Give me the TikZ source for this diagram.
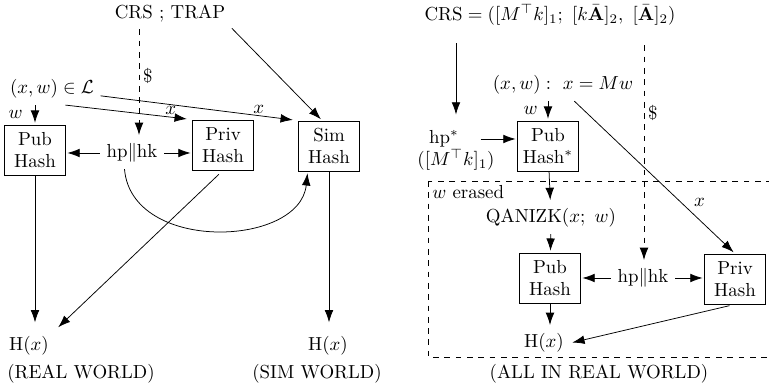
\documentclass[tikz,border=0pt]{standalone}
\usepackage{amsmath}
\usetikzlibrary{arrows.meta}
\tikzset{
  hashbox/.style={draw,align=center,minimum width=32pt,minimum height=26.5pt,inner sep=2pt},
  pfeil/.style={->,shorten >=1pt}
}
\begin{document}
\begin{tikzpicture}[>={Latex[length=6.5pt,width=4.6pt]},x=0.53pt,y=-0.53pt]
\useasboundingbox (0,0) rectangle (769,392);
\def\pfeil#1#2{
\draw[pfeil] #1 -- #2;
}
% real world / sim world
\node (crsl) at (170,14) {CRS ; TRAP};
\node (xwl) at (52,89) {$(x,w)\in\mathcal{L}$};
\node[hashbox] (publ) at (35,150) {Pub\\Hash};
\node[hashbox] (privl) at (223,145) {Priv\\Hash};
\node[hashbox] (siml) at (329,146) {Sim\\Hash};
\node (hphkl) at (132,153) {hp$\|$hk};
\node (hl) at (29,346) {$\mathrm{H}(x)$};
\node (hs) at (328,346) {$\mathrm{H}(x)$};
\node (real) at (81,374) {(REAL WORLD)};
\node (sim) at (317,374) {(SIM WORLD)};
\coordinate (dollarl) at (139,70);

\draw[pfeil,dashed] (crsl.south -| dollarl) -- (hphkl.north -| dollarl)
  node[pos=0.43,right,inner sep=2pt] {\$};
\pfeil{(crsl.-13)}{(siml.105)}
\draw[pfeil,shorten >=3pt] (xwl.-50) -- (privl.north west) node[pos=0.83,above,inner sep=1pt] {$x$};
\draw[pfeil,shorten >=3pt] (xwl.-8) -- (siml.north west) node[pos=0.8,above,inner sep=1pt] {$x$};
\draw[pfeil] (xwl.south -| publ) -- (publ.north) node[midway,left,xshift=-3pt] {$w$};
\pfeil{(hphkl.west)}{(publ.east |- hphkl.west)}
\pfeil{(hphkl.east)}{(privl.west |- hphkl.east)}
\draw[pfeil] (hphkl.-115) .. controls +(7,84) and +(-8,76) .. (siml.-130);
\draw[pfeil,shorten >=4pt] (publ.south) -- (publ.south |- hl.north);
\draw[pfeil,shorten <=3pt,shorten >=2pt] (privl.south) -- (hl.north east);
\draw[pfeil,shorten >=4pt] (siml.south) -- (siml.south |- hs.north);

% all in real world
\node (crsr) at (550,15) {$\mathrm{CRS} = ([M^\top k]_1;\ [k\bar{\mathbf{A}}]_2,\ [\bar{\mathbf{A}}]_2)$};
\node (xwr) at (563,85) {$(x,w):\ x = Mw$};
\node (hpstar) at (444,139) {hp$^*$};
\node (mk) at (456,160) {$([M^\top k]_1)$};
\node[hashbox] (pubstar) at (548,146) {Pub\\Hash$^*$};
\node (qanizk) at (551,218) {QANIZK$(x;\ w)$};
\node[hashbox] (pubr) at (550,278) {Pub\\Hash};
\node[hashbox] (privr) at (735,279) {Priv\\Hash};
\node (hphkr) at (643,278) {hp$\|$hk};
\node (hr) at (544,343) {$\mathrm{H}(x)$};
\node (allreal) at (599,374) {(ALL IN REAL WORLD)};
\coordinate (dollarr) at (644,117);
\draw[dashed] (428,181) rectangle (775,357);
\node[anchor=north west,inner sep=1pt] (erased) at (430,183) {$w$ erased};

\draw[pfeil,shorten <=6pt,shorten >=5pt] (crsr.south -| mk) -- (hpstar.north -| mk);
\draw[pfeil,dashed,shorten <=7pt] (crsr.south -| dollarr) -- (hphkr.north -| dollarr)
  node[pos=0.35,right,inner sep=2pt] {\$};
\draw[pfeil] (xwr.south -| pubstar) -- (pubstar.north) node[midway,left,xshift=-2pt] {$w$};
\draw[pfeil,shorten <=8pt] (hpstar.east) -- (pubstar.west |- hpstar.east);
\draw[pfeil] (xwr.-55) -- (privr.north) node[pos=0.72,above right,inner sep=2pt] {$x$};
\pfeil{(pubstar)}{(qanizk)}
\pfeil{(qanizk)}{(pubr)}
\pfeil{(hphkr.west)}{(pubr.east |- hphkr.west)}
\pfeil{(hphkr.east)}{(privr.west |- hphkr.east)}
\pfeil{(pubr)}{(pubr |- hr.north)}
\draw[pfeil,shorten <=3pt] (privr.south) -- (hr.east);
\end{tikzpicture}
\end{document}
